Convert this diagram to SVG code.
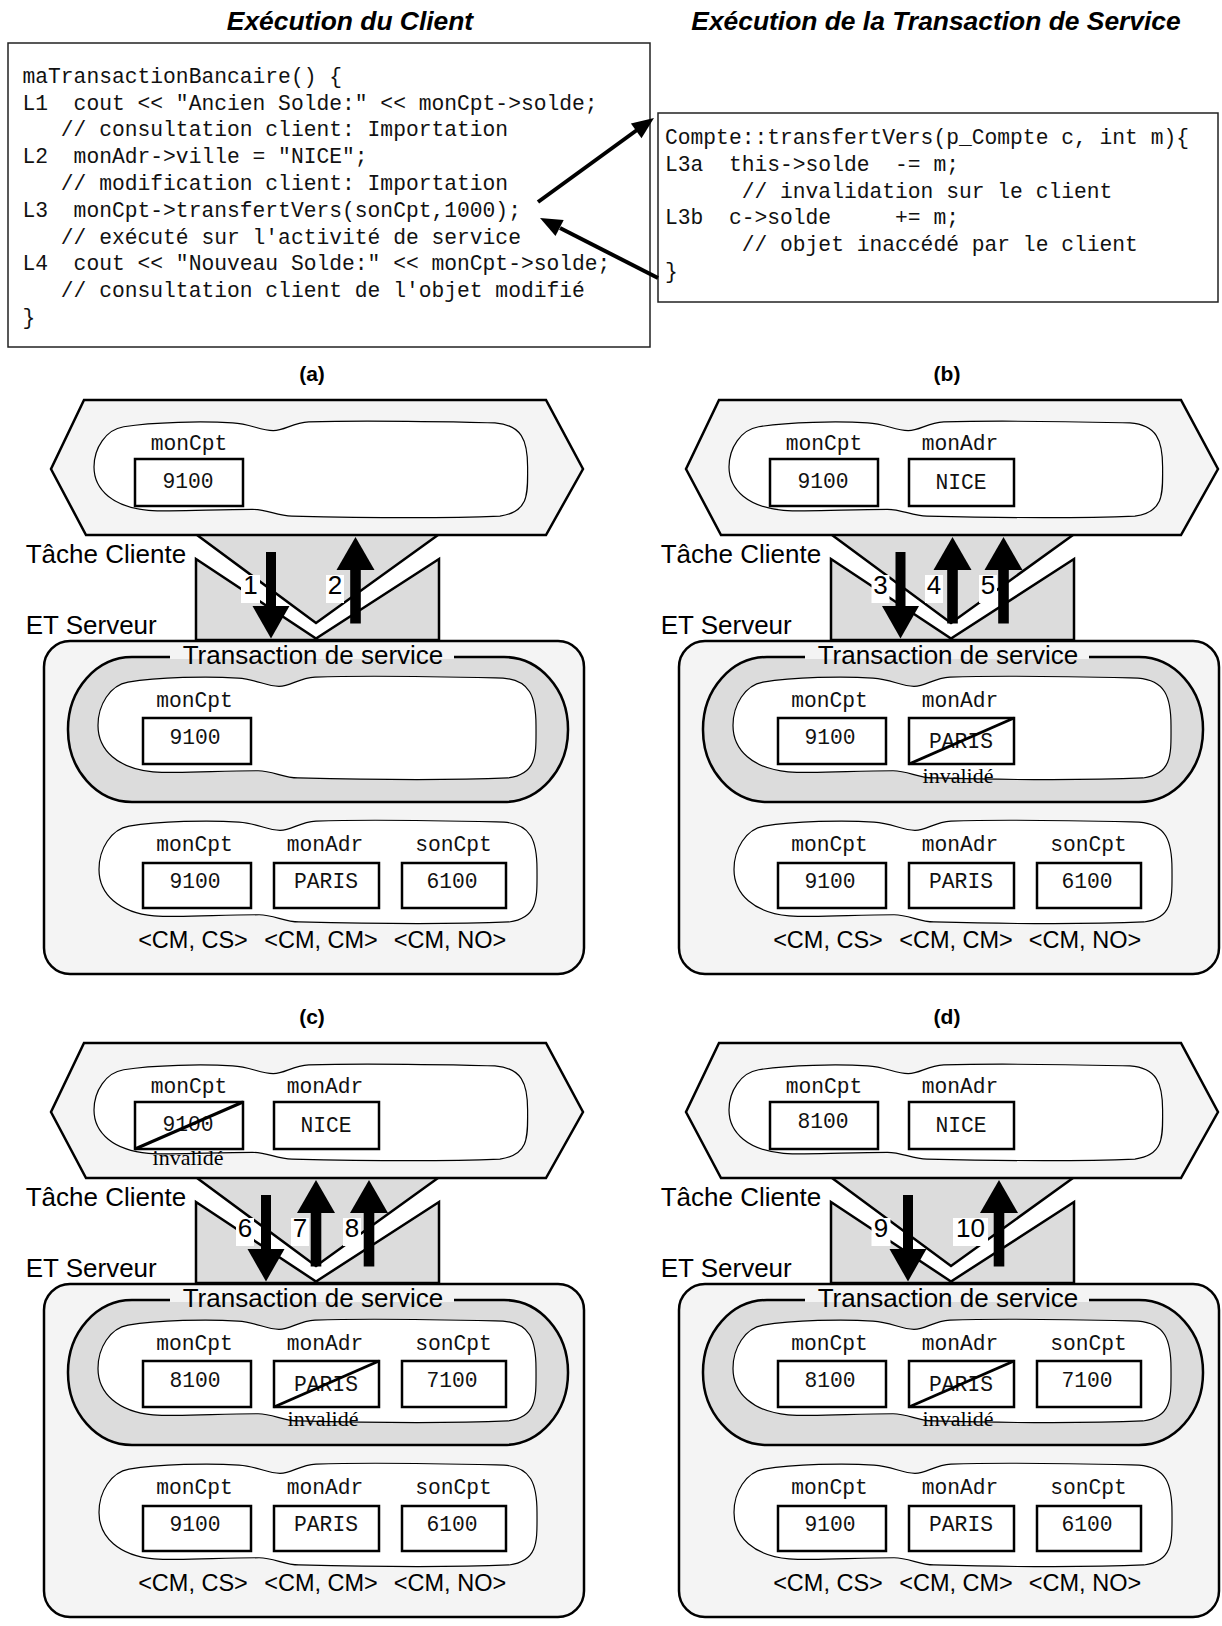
<svg xmlns="http://www.w3.org/2000/svg" xmlns:xlink="http://www.w3.org/1999/xlink" width="1222" height="1626" viewBox="0 0 1222 1626">
<style>
.code{font-family:"Liberation Mono","Courier New",monospace;font-size:21.3px;white-space:pre;fill:#111}
.mono{font-family:"Liberation Mono","Courier New",monospace;font-size:21.3px;fill:#111}
.title{font-family:"Liberation Sans",Arial,sans-serif;font-size:26.4px;font-weight:bold;font-style:italic}
.plabel{font-family:"Liberation Sans",Arial,sans-serif;font-size:21px;font-weight:bold}
.big{font-family:"Liberation Sans",Arial,sans-serif;font-size:26px}
.cm{font-family:"Liberation Sans",Arial,sans-serif;font-size:23.5px}
.inv{font-family:"Liberation Serif","Times New Roman",serif;font-size:22px}
.codebox{fill:#fff;stroke:#222;stroke-width:1.5}
.box{fill:#fff;stroke:#000;stroke-width:2.5}
.strike{stroke:#000;stroke-width:3}
.light{fill:#f4f4f4;stroke:#000;stroke-width:2.5}
.gray{fill:#dcdcdc;stroke:#000;stroke-width:2.5}
.blob{fill:#fff;stroke:#000;stroke-width:1.2}
.lbl{fill:#fff}
.conn{stroke:#000;stroke-width:4;fill:none}
</style>
<defs>
  <path id="blob" vector-effect="non-scaling-stroke" d="M30,6 C60,1 110,0 140,2 C158,3 168,10 181,10 C193,10 200,2 217,1 C280,-1 360,1 405,2 C432,4 438,20 438,48 C438,75 440,95 410,99 C340,102 240,100 200,99 C185,99 175,92 160,92 C120,92 80,95 55,93 C20,90 0,72 0,48 C0,28 12,9 30,6 Z"/>
  <polygon id="hexShape" points="84,400 546,400 583,469 546,535 86,535 51,469"/>
  <g id="channel">
    <polygon points="197,535 438,535 316,623" fill="#dcdcdc"/>
    <polygon points="196,559 316,638.5 439,559 439,640 196,640" fill="#dcdcdc" stroke="#000" stroke-width="2.5"/>
    <polyline points="197,535 316,623 438,535" fill="none" stroke="#000" stroke-width="2.5"/>
  </g>
  <g id="arrDown">
    <rect x="-5" y="552" width="10" height="56"/>
    <polygon points="-18.5,606 18.5,606 0,638.5"/>
  </g>
  <g id="arrUp">
    <polygon points="0,537 -19,570 19,570"/>
    <rect x="-5.3" y="568" width="10.6" height="55.5"/>
  </g>
</defs>

<rect width="1222" height="1626" fill="#fff"/>

<text class="title" x="350" y="30" text-anchor="middle">Exécution du Client</text>
<text class="title" x="936" y="30" text-anchor="middle">Exécution de la Transaction de Service</text>

<g id="client-code">
  <rect class="codebox" x="8" y="43" width="642" height="304"/>
  <text class="code" xml:space="preserve" x="22.5" y="82.7">maTransactionBancaire() {</text>
  <text class="code" xml:space="preserve" x="22.5" y="109.5">L1  cout &lt;&lt; "Ancien Solde:" &lt;&lt; monCpt-&gt;solde;</text>
  <text class="code" xml:space="preserve" x="22.5" y="136.3">   // consultation client: Importation</text>
  <text class="code" xml:space="preserve" x="22.5" y="163.1">L2  monAdr-&gt;ville = "NICE";</text>
  <text class="code" xml:space="preserve" x="22.5" y="189.9">   // modification client: Importation</text>
  <text class="code" xml:space="preserve" x="22.5" y="216.7">L3  monCpt-&gt;transfertVers(sonCpt,1000);</text>
  <text class="code" xml:space="preserve" x="22.5" y="243.5">   // exécuté sur l'activité de service</text>
  <text class="code" xml:space="preserve" x="22.5" y="270.3">L4  cout &lt;&lt; "Nouveau Solde:" &lt;&lt; monCpt-&gt;solde;</text>
  <text class="code" xml:space="preserve" x="22.5" y="297.1">   // consultation client de l'objet modifié</text>
  <text class="code" xml:space="preserve" x="22.5" y="323.9">}</text>
</g>

<g id="service-code">
  <rect class="codebox" x="658" y="113" width="560" height="189"/>
  <text class="code" xml:space="preserve" x="665" y="144">Compte::transfertVers(p_Compte c, int m){</text>
  <text class="code" xml:space="preserve" x="665" y="170.8">L3a  this-&gt;solde  -= m;</text>
  <text class="code" xml:space="preserve" x="665" y="197.6">      // invalidation sur le client</text>
  <text class="code" xml:space="preserve" x="665" y="224.4">L3b  c-&gt;solde     += m;</text>
  <text class="code" xml:space="preserve" x="665" y="251.2">      // objet inaccédé par le client</text>
  <text class="code" xml:space="preserve" x="665" y="278">}</text>
</g>

<!-- ============ PANEL (a) ============ -->
<g id="panel-a">
  <text class="plabel" x="312" y="381" text-anchor="middle">(a)</text>
  <use xlink:href="#channel"/>
  <g id="a-client">
    <use xlink:href="#hexShape" class="light"/>
    <use xlink:href="#blob" class="blob" transform="translate(94,421) scale(0.99,0.96)"/>
    <text class="mono" x="189" y="450" text-anchor="middle">monCpt</text>
    <rect class="box" x="135" y="459" width="108" height="47"/>
    <text class="mono" x="188" y="488" text-anchor="middle">9100</text>
  </g>
  <text class="big" x="25.7" y="563">Tâche Cliente</text>
  <text class="big" x="25.7" y="633.5">ET Serveur</text>
  <g id="a-server">
    <rect class="light" x="44" y="641" width="540" height="333" rx="26"/>
    <rect class="gray" x="68" y="657" width="500" height="145" rx="64" ry="72"/>
    <rect x="170" y="646" width="284" height="13" fill="#f4f4f4"/>
    <text class="big" x="313" y="664" text-anchor="middle">Transaction de service</text>
    <use xlink:href="#blob" class="blob" transform="translate(98,676) scale(1,1.03)"/>
    <text class="mono" x="194.5" y="707" text-anchor="middle">monCpt</text>
    <rect class="box" x="143" y="718" width="108" height="46"/>
    <text class="mono" x="195" y="744" text-anchor="middle">9100</text>
    <use xlink:href="#blob" class="blob" transform="translate(99,820) scale(1,1.03)"/>
    <text class="mono" x="194.5" y="850.7" text-anchor="middle">monCpt</text>
    <text class="mono" x="325" y="850.7" text-anchor="middle">monAdr</text>
    <text class="mono" x="453.5" y="850.7" text-anchor="middle">sonCpt</text>
    <rect class="box" x="143" y="863" width="108" height="45"/>
    <rect class="box" x="274" y="863" width="105" height="45"/>
    <rect class="box" x="402" y="863" width="104" height="45"/>
    <text class="mono" x="195" y="888" text-anchor="middle">9100</text>
    <text class="mono" x="326" y="888" text-anchor="middle">PARIS</text>
    <text class="mono" x="452" y="888" text-anchor="middle">6100</text>
    <text class="cm" x="193" y="948" text-anchor="middle">&lt;CM, CS&gt;</text>
    <text class="cm" x="321" y="948" text-anchor="middle">&lt;CM, CM&gt;</text>
    <text class="cm" x="450" y="948" text-anchor="middle">&lt;CM, NO&gt;</text>
  </g>
</g>

<!-- ============ PANEL (b) ============ -->
<g id="panel-b" transform="translate(635,0)">
  <text class="plabel" x="312" y="381" text-anchor="middle">(b)</text>
  <use xlink:href="#channel"/>
  <g id="b-client">
    <use xlink:href="#hexShape" class="light"/>
    <use xlink:href="#blob" class="blob" transform="translate(94,421) scale(0.99,0.96)"/>
    <text class="mono" x="189" y="450" text-anchor="middle">monCpt</text>
    <rect class="box" x="135" y="459" width="108" height="47"/>
    <text class="mono" x="188" y="488" text-anchor="middle">9100</text>
    <text class="mono" x="325" y="450" text-anchor="middle">monAdr</text>
    <rect class="box" x="274" y="459" width="105" height="47"/>
    <text class="mono" x="326" y="489" text-anchor="middle">NICE</text>
  </g>
  <text class="big" x="25.7" y="563">Tâche Cliente</text>
  <text class="big" x="25.7" y="633.5">ET Serveur</text>
  <g id="b-server">
    <rect class="light" x="44" y="641" width="540" height="333" rx="26"/>
    <rect class="gray" x="68" y="657" width="500" height="145" rx="64" ry="72"/>
    <rect x="170" y="646" width="284" height="13" fill="#f4f4f4"/>
    <text class="big" x="313" y="664" text-anchor="middle">Transaction de service</text>
    <use xlink:href="#blob" class="blob" transform="translate(98,676) scale(1,1.03)"/>
    <text class="mono" x="194.5" y="707" text-anchor="middle">monCpt</text>
    <rect class="box" x="143" y="718" width="108" height="46"/>
    <text class="mono" x="195" y="744" text-anchor="middle">9100</text>
    <text class="mono" x="325" y="707" text-anchor="middle">monAdr</text>
    <rect class="box" x="274" y="718" width="105" height="46"/>
    <text class="mono" x="326" y="748" text-anchor="middle">PARIS</text>
    <line class="strike" x1="274" y1="764" x2="379" y2="718"/>
    <text class="inv" x="323" y="783" text-anchor="middle">invalidé</text>
    <use xlink:href="#blob" class="blob" transform="translate(99,820) scale(1,1.03)"/>
    <text class="mono" x="194.5" y="850.7" text-anchor="middle">monCpt</text>
    <text class="mono" x="325" y="850.7" text-anchor="middle">monAdr</text>
    <text class="mono" x="453.5" y="850.7" text-anchor="middle">sonCpt</text>
    <rect class="box" x="143" y="863" width="108" height="45"/>
    <rect class="box" x="274" y="863" width="105" height="45"/>
    <rect class="box" x="402" y="863" width="104" height="45"/>
    <text class="mono" x="195" y="888" text-anchor="middle">9100</text>
    <text class="mono" x="326" y="888" text-anchor="middle">PARIS</text>
    <text class="mono" x="452" y="888" text-anchor="middle">6100</text>
    <text class="cm" x="193" y="948" text-anchor="middle">&lt;CM, CS&gt;</text>
    <text class="cm" x="321" y="948" text-anchor="middle">&lt;CM, CM&gt;</text>
    <text class="cm" x="450" y="948" text-anchor="middle">&lt;CM, NO&gt;</text>
  </g>
</g>

<!-- ============ PANEL (c) ============ -->
<g id="panel-c" transform="translate(0,643)">
  <text class="plabel" x="312" y="381" text-anchor="middle">(c)</text>
  <use xlink:href="#channel"/>
  <g id="c-client">
    <use xlink:href="#hexShape" class="light"/>
    <use xlink:href="#blob" class="blob" transform="translate(94,421) scale(0.99,0.96)"/>
    <text class="mono" x="189" y="450" text-anchor="middle">monCpt</text>
    <rect class="box" x="135" y="459" width="108" height="47"/>
    <text class="mono" x="188" y="488" text-anchor="middle">9100</text>
    <line class="strike" x1="135" y1="506" x2="243" y2="459"/>
    <text class="inv" x="188" y="522" text-anchor="middle">invalidé</text>
    <text class="mono" x="325" y="450" text-anchor="middle">monAdr</text>
    <rect class="box" x="274" y="459" width="105" height="47"/>
    <text class="mono" x="326" y="489" text-anchor="middle">NICE</text>
  </g>
  <text class="big" x="25.7" y="563">Tâche Cliente</text>
  <text class="big" x="25.7" y="633.5">ET Serveur</text>
  <g id="c-server">
    <rect class="light" x="44" y="641" width="540" height="333" rx="26"/>
    <rect class="gray" x="68" y="657" width="500" height="145" rx="64" ry="72"/>
    <rect x="170" y="646" width="284" height="13" fill="#f4f4f4"/>
    <text class="big" x="313" y="664" text-anchor="middle">Transaction de service</text>
    <use xlink:href="#blob" class="blob" transform="translate(98,676) scale(1,1.03)"/>
    <text class="mono" x="194.5" y="707" text-anchor="middle">monCpt</text>
    <rect class="box" x="143" y="718" width="108" height="46"/>
    <text class="mono" x="195" y="744" text-anchor="middle">8100</text>
    <text class="mono" x="325" y="707" text-anchor="middle">monAdr</text>
    <rect class="box" x="274" y="718" width="105" height="46"/>
    <text class="mono" x="326" y="748" text-anchor="middle">PARIS</text>
    <line class="strike" x1="274" y1="764" x2="379" y2="718"/>
    <text class="inv" x="323" y="783" text-anchor="middle">invalidé</text>
    <text class="mono" x="453.5" y="707" text-anchor="middle">sonCpt</text>
    <rect class="box" x="402" y="718" width="104" height="46"/>
    <text class="mono" x="452" y="744" text-anchor="middle">7100</text>
    <use xlink:href="#blob" class="blob" transform="translate(99,820) scale(1,1.03)"/>
    <text class="mono" x="194.5" y="850.7" text-anchor="middle">monCpt</text>
    <text class="mono" x="325" y="850.7" text-anchor="middle">monAdr</text>
    <text class="mono" x="453.5" y="850.7" text-anchor="middle">sonCpt</text>
    <rect class="box" x="143" y="863" width="108" height="45"/>
    <rect class="box" x="274" y="863" width="105" height="45"/>
    <rect class="box" x="402" y="863" width="104" height="45"/>
    <text class="mono" x="195" y="888" text-anchor="middle">9100</text>
    <text class="mono" x="326" y="888" text-anchor="middle">PARIS</text>
    <text class="mono" x="452" y="888" text-anchor="middle">6100</text>
    <text class="cm" x="193" y="948" text-anchor="middle">&lt;CM, CS&gt;</text>
    <text class="cm" x="321" y="948" text-anchor="middle">&lt;CM, CM&gt;</text>
    <text class="cm" x="450" y="948" text-anchor="middle">&lt;CM, NO&gt;</text>
  </g>
</g>

<!-- ============ PANEL (d) ============ -->
<g id="panel-d" transform="translate(635,643)">
  <text class="plabel" x="312" y="381" text-anchor="middle">(d)</text>
  <use xlink:href="#channel"/>
  <g id="d-client">
    <use xlink:href="#hexShape" class="light"/>
    <use xlink:href="#blob" class="blob" transform="translate(94,421) scale(0.99,0.96)"/>
    <text class="mono" x="189" y="450" text-anchor="middle">monCpt</text>
    <rect class="box" x="135" y="459" width="108" height="47"/>
    <text class="mono" x="188" y="485" text-anchor="middle">8100</text>
    <text class="mono" x="325" y="450" text-anchor="middle">monAdr</text>
    <rect class="box" x="274" y="459" width="105" height="47"/>
    <text class="mono" x="326" y="489" text-anchor="middle">NICE</text>
  </g>
  <text class="big" x="25.7" y="563">Tâche Cliente</text>
  <text class="big" x="25.7" y="633.5">ET Serveur</text>
  <g id="d-server">
    <rect class="light" x="44" y="641" width="540" height="333" rx="26"/>
    <rect class="gray" x="68" y="657" width="500" height="145" rx="64" ry="72"/>
    <rect x="170" y="646" width="284" height="13" fill="#f4f4f4"/>
    <text class="big" x="313" y="664" text-anchor="middle">Transaction de service</text>
    <use xlink:href="#blob" class="blob" transform="translate(98,676) scale(1,1.03)"/>
    <text class="mono" x="194.5" y="707" text-anchor="middle">monCpt</text>
    <rect class="box" x="143" y="718" width="108" height="46"/>
    <text class="mono" x="195" y="744" text-anchor="middle">8100</text>
    <text class="mono" x="325" y="707" text-anchor="middle">monAdr</text>
    <rect class="box" x="274" y="718" width="105" height="46"/>
    <text class="mono" x="326" y="748" text-anchor="middle">PARIS</text>
    <line class="strike" x1="274" y1="764" x2="379" y2="718"/>
    <text class="inv" x="323" y="783" text-anchor="middle">invalidé</text>
    <text class="mono" x="453.5" y="707" text-anchor="middle">sonCpt</text>
    <rect class="box" x="402" y="718" width="104" height="46"/>
    <text class="mono" x="452" y="744" text-anchor="middle">7100</text>
    <use xlink:href="#blob" class="blob" transform="translate(99,820) scale(1,1.03)"/>
    <text class="mono" x="194.5" y="850.7" text-anchor="middle">monCpt</text>
    <text class="mono" x="325" y="850.7" text-anchor="middle">monAdr</text>
    <text class="mono" x="453.5" y="850.7" text-anchor="middle">sonCpt</text>
    <rect class="box" x="143" y="863" width="108" height="45"/>
    <rect class="box" x="274" y="863" width="105" height="45"/>
    <rect class="box" x="402" y="863" width="104" height="45"/>
    <text class="mono" x="195" y="888" text-anchor="middle">9100</text>
    <text class="mono" x="326" y="888" text-anchor="middle">PARIS</text>
    <text class="mono" x="452" y="888" text-anchor="middle">6100</text>
    <text class="cm" x="193" y="948" text-anchor="middle">&lt;CM, CS&gt;</text>
    <text class="cm" x="321" y="948" text-anchor="middle">&lt;CM, CM&gt;</text>
    <text class="cm" x="450" y="948" text-anchor="middle">&lt;CM, NO&gt;</text>
  </g>
</g>

<!-- ============ CONNECTORS ============ -->
<g id="connectors">
  <line class="conn" x1="538" y1="202" x2="637" y2="130"/>
  <polygon points="654,118 641.5,138.2 630.9,123.6"/>
  <line class="conn" x1="658" y1="278" x2="560" y2="228"/>
  <polygon points="540,218 563.7,220 555.5,236"/>

  <g id="conn-a">
    <rect class="lbl" x="241" y="575" width="19" height="28"/>
    <text class="big" x="250.5" y="594" text-anchor="middle">1</text>
    <use xlink:href="#arrDown" x="271"/>
    <rect class="lbl" x="326" y="575" width="18" height="28"/>
    <text class="big" x="335" y="594" text-anchor="middle">2</text>
    <use xlink:href="#arrUp" x="355.5"/>
  </g>
  <g id="conn-b" transform="translate(635,0)">
    <rect class="lbl" x="236.5" y="575" width="18" height="28"/>
    <text class="big" x="245.5" y="594" text-anchor="middle">3</text>
    <use xlink:href="#arrDown" x="265.5"/>
    <rect class="lbl" x="290" y="575" width="18" height="28"/>
    <text class="big" x="299" y="594" text-anchor="middle">4</text>
    <use xlink:href="#arrUp" x="317.5"/>
    <rect class="lbl" x="344" y="575" width="18" height="28"/>
    <text class="big" x="353" y="594" text-anchor="middle">5</text>
    <use xlink:href="#arrUp" x="368.5"/>
  </g>
  <g id="conn-c" transform="translate(0,643)">
    <rect class="lbl" x="236" y="575" width="18" height="28"/>
    <text class="big" x="245" y="594" text-anchor="middle">6</text>
    <use xlink:href="#arrDown" x="266"/>
    <rect class="lbl" x="291" y="575" width="18" height="28"/>
    <text class="big" x="300" y="594" text-anchor="middle">7</text>
    <use xlink:href="#arrUp" x="316"/>
    <rect class="lbl" x="343" y="575" width="18" height="28"/>
    <text class="big" x="352" y="594" text-anchor="middle">8</text>
    <use xlink:href="#arrUp" x="369"/>
  </g>
  <g id="conn-d" transform="translate(635,643)">
    <rect class="lbl" x="236.5" y="575" width="19" height="28"/>
    <text class="big" x="246" y="594" text-anchor="middle">9</text>
    <use xlink:href="#arrDown" x="273"/>
    <rect class="lbl" x="318" y="575" width="35" height="28"/>
    <text class="big" x="335.5" y="594" text-anchor="middle">10</text>
    <use xlink:href="#arrUp" x="364"/>
  </g>
</g>
</svg>
